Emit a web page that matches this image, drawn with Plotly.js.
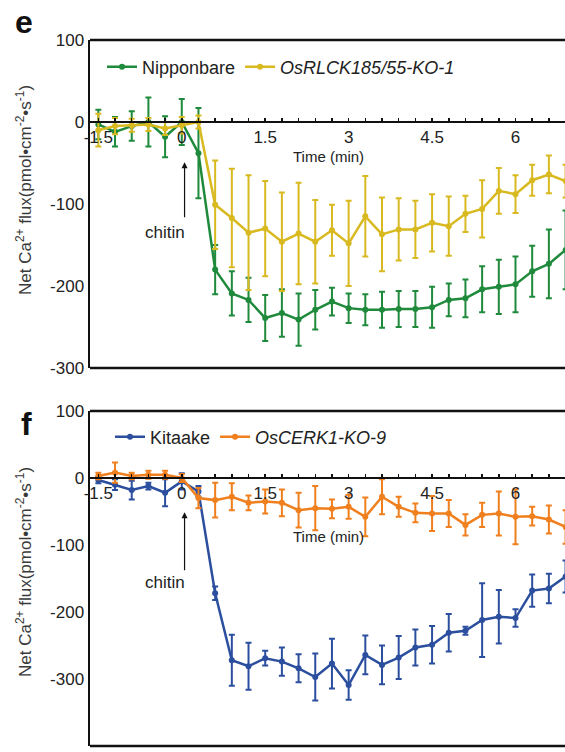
<!DOCTYPE html>
<html>
<head>
<meta charset="utf-8">
<script src="https://cdn.plot.ly/plotly-3.0.1.min.js"></script>
<style>html,body{margin:0;padding:0;background:#fff;}#chart{width:565px;height:752px;}</style>
</head>
<body>
<div id="chart"></div>
<script>
// Time points (min)
const time = [-1.5,-1.2,-0.9,-0.6,-0.3,0,0.3,0.6,0.9,1.2,1.5,1.8,2.1,2.4,2.7,3.0,3.3,3.6,3.9,4.2,4.5,4.8,5.1,5.4,5.7,6.0,6.3,6.6,6.9];

// Panel e
const nipponbare    = [-3,-12,-5,0,-18,0,-38,-180,-209,-217,-239,-233,-241,-229,-219,-227,-229,-229,-228,-228,-226,-217,-215,-204,-201,-198,-182,-173,-156];
const nipponbareErr = [18,18,18,30,25,28,55,30,27,27,28,29,32,24,17,18,19,22,22,22,25,20,23,28,33,34,31,42,48];
const rlck          = [-10,-5,-4,-3,-8,-4,0,-101,-117,-135,-130,-146,-136,-146,-132,-148,-115,-137,-131,-131,-123,-127,-112,-106,-84,-88,-71,-64,-72];
const rlckErr       = [20,10,8,8,8,10,8,54,60,70,58,60,62,51,31,52,49,45,38,35,35,36,22,35,28,23,19,23,20];

// Panel f
const kitaake       = [-3,-10,-18,-12,-22,-5,-20,-172,-272,-281,-269,-274,-284,-297,-277,-309,-264,-279,-268,-253,-249,-231,-228,-212,-207,-209,-168,-165,-147];
const kitaakeErr    = [5,8,14,5,20,12,8,10,38,35,11,21,21,35,37,22,29,29,32,27,28,28,6,55,40,13,24,22,24];
const cerk          = [3,8,3,5,5,0,-30,-33,-28,-37,-35,-37,-48,-45,-46,-43,-58,-28,-43,-52,-53,-53,-70,-55,-53,-58,-57,-62,-73];
const cerkErr       = [5,15,5,6,6,6,15,26,20,11,18,20,26,33,14,18,29,26,15,14,26,20,16,18,33,41,14,21,25];

// Tick labels
const xTickVals = [-1.5,0,1.5,3,4.5,6];
const xTickText = ["-1.5","0","1.5","3","4.5","6"];
const yTickValsE = [100,0,-100,-200,-300];
const yTickTextE = ["100","0","-100","-200","-300"];
const yTickValsF = [100,0,-100,-200,-300,-400];
const yTickTextF = ["100","0","-100","-200","-300","-400"];

const FONT = "Liberation Sans, Arial, sans-serif";
const GREEN = "#1f8a3b", YELLOW = "#d9b920", BLUE = "#2b4f9e", ORANGE = "#f07f1e";

function tr(y, err, color, name, xa, ya, leg) {
  return {
    x: time, y: y, name: name, xaxis: xa, yaxis: ya, legend: leg,
    type: "scatter", mode: "lines+markers",
    line: {color: color, width: 2.5},
    marker: {color: color, size: 6},
    error_y: {type: "data", array: err, visible: true, color: color, thickness: 2, width: 3}
  };
}

const data = [
  tr(nipponbare, nipponbareErr, GREEN, "Nipponbare", "x", "y", "legend"),
  tr(rlck, rlckErr, YELLOW, "<i>OsRLCK185/55-KO-1</i>", "x", "y", "legend"),
  tr(kitaake, kitaakeErr, BLUE, "Kitaake", "x2", "y2", "legend2"),
  tr(cerk, cerkErr, ORANGE, "<i>OsCERK1-KO-9</i>", "x2", "y2", "legend2")
];

// geometry helpers (pixel -> paper)
const L = 90, T = 40, B = 6, W = 565, H = 752;
const PW = W - L, PH = H - T - B;
const px = p => (p - L) / PW;
const py = q => (H - B - q) / PH;

const xRange = [-1.65, 6.89];
function xax(pos) {
  return {
    domain: [0, 1], range: xRange, anchor: "free", position: pos,
    showline: true, linecolor: "#111", linewidth: 2,
    ticks: "inside", ticklen: 3, tickwidth: 1.5, tickcolor: "#111",
    tickvals: xTickVals, ticktext: xTickText,
    minor: {dtick: 0.3, tick0: 0, ticks: "inside", ticklen: 3, tickwidth: 1.5, tickcolor: "#111"},
    showgrid: false, zeroline: false,
    tickfont: {family: FONT, size: 17, color: "#222"}
  };
}
function yax(dom, range, vals, text, anchor) {
  return {
    domain: dom, range: range, anchor: anchor,
    showline: true, linecolor: "#111", linewidth: 2.5,
    ticks: "", tickvals: vals, ticktext: text,
    showgrid: false, zeroline: false,
    tickfont: {family: FONT, size: 17, color: "#222"}
  };
}

const yDomE = [py(368), py(40)];
const yDomF = [py(746), py(411)];
const zeroE = py(122);
const zeroF = py(478);

function border(yref, yv) {
  return {type: "line", xref: "paper", yref: yref, x0: 0, x1: 1.01, y0: yv, y1: yv,
          line: {color: "#111", width: 2.5}};
}

const ytitle = "Net Ca<sup>2+</sup> flux(pmol•cm<sup>-2</sup>•s<sup>-1</sup>)";

const layout = {
  width: W, height: H,
  margin: {l: L, r: 0, t: T, b: B},
  paper_bgcolor: "#fff", plot_bgcolor: "#fff",
  font: {family: FONT, color: "#222"},
  showlegend: true,
  xaxis: xax(zeroE),
  yaxis: yax(yDomE, [-300, 100], yTickValsE, yTickTextE, "x"),
  xaxis2: xax(zeroF),
  yaxis2: yax(yDomF, [-400, 100], yTickValsF, yTickTextF, "x2"),
  legend: {orientation: "h", x: px(102), y: py(67), xanchor: "left", yanchor: "middle",
           bgcolor: "rgba(0,0,0,0)", font: {family: FONT, size: 18, color: "#222"}},
  legend2: {orientation: "h", x: px(110), y: py(437), xanchor: "left", yanchor: "middle",
            bgcolor: "rgba(0,0,0,0)", font: {family: FONT, size: 18, color: "#222"}},
  shapes: [
    border("y domain", 1), border("y domain", 0),
    border("y2 domain", 1), border("y2 domain", 0)
  ],
  annotations: [
    {text: "<b>e</b>", xref: "paper", yref: "paper", x: px(24), y: py(22), xanchor: "center", yanchor: "middle",
     showarrow: false, font: {family: FONT, size: 32, color: "#111"}},
    {text: "<b>f</b>", xref: "paper", yref: "paper", x: px(27), y: py(424), xanchor: "center", yanchor: "middle",
     showarrow: false, font: {family: FONT, size: 32, color: "#111"}},
    {text: ytitle, xref: "paper", yref: "paper", x: px(24), y: py(190), xanchor: "center", yanchor: "middle",
     textangle: -90, showarrow: false, font: {family: FONT, size: 17, color: "#3a3a3a"}},
    {text: ytitle, xref: "paper", yref: "paper", x: px(24), y: py(572), xanchor: "center", yanchor: "middle",
     textangle: -90, showarrow: false, font: {family: FONT, size: 17, color: "#3a3a3a"}},
    {text: "Time (min)", xref: "x", yref: "y", x: 2.63, y: -42, showarrow: false,
     font: {family: FONT, size: 15, color: "#222"}},
    {text: "Time (min)", xref: "x2", yref: "y2", x: 2.63, y: -88, showarrow: false,
     font: {family: FONT, size: 15, color: "#222"}},
    {text: "", xref: "x", yref: "y", x: 0.05, y: -49, axref: "x", ayref: "y", ax: 0.05, ay: -118,
     showarrow: true, arrowhead: 2, arrowsize: 1, arrowwidth: 1.2, arrowcolor: "#111"},
    {text: "chitin", xref: "x", yref: "y", x: -0.3, y: -135, showarrow: false,
     font: {family: FONT, size: 17, color: "#222"}},
    {text: "", xref: "x2", yref: "y2", x: 0.05, y: -51, axref: "x2", ayref: "y2", ax: 0.05, ay: -140,
     showarrow: true, arrowhead: 2, arrowsize: 1, arrowwidth: 1.2, arrowcolor: "#111"},
    {text: "chitin", xref: "x2", yref: "y2", x: -0.3, y: -156, showarrow: false,
     font: {family: FONT, size: 17, color: "#222"}}
  ]
};

Plotly.newPlot("chart", data, layout, {displayModeBar: false, staticPlot: true});
</script>
</body>
</html>
